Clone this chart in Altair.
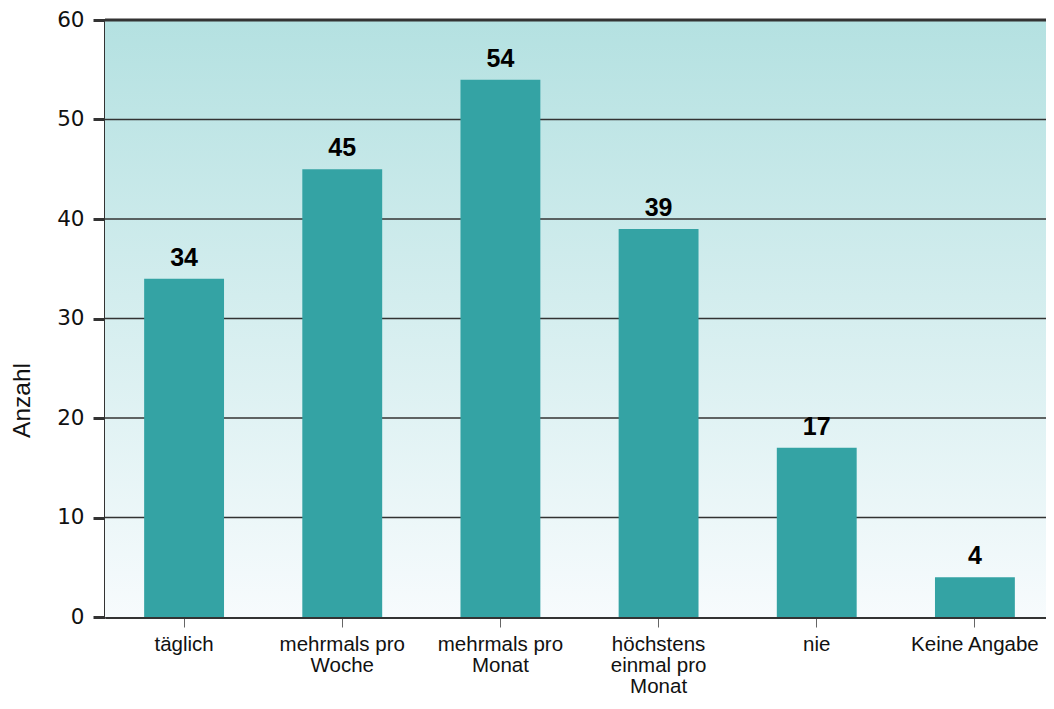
import altair as alt
import pandas as pd

categories = ["täglich", "mehrmals pro Woche", "mehrmals pro Monat",
              "höchstens einmal pro Monat", "nie", "Keine Angabe"]
label_lines = [["täglich"], ["mehrmals pro", "Woche"], ["mehrmals pro", "Monat"],
               ["höchstens", "einmal pro", "Monat"], ["nie"], ["Keine Angabe"]]
values = [34, 45, 54, 39, 17, 4]
y_ticks = [0, 10, 20, 30, 40, 50, 60]

df = pd.DataFrame({"cat": categories, "val": values})
grid_df = pd.DataFrame({"g": y_ticks[1:]})

label_map = {c: l for c, l in zip(categories, label_lines)}
label_expr = "{" + ",".join(
    f"'{c}': [" + ",".join(f"'{s}'" for s in l) + "]" for c, l in label_map.items()
) + "}[datum.value]"

W, H = 941, 597
X_RANGE = 949  # band layout as in the original; plot area clipped at the window edge

yscale = alt.Scale(domain=[0, 60], nice=False)
xscale = alt.Scale(paddingInner=0.495, paddingOuter=0.2475, range=[0, X_RANGE])

x = alt.X("cat:N", sort=categories, title=None, scale=xscale,
          axis=alt.Axis(labelAngle=0, labelExpr=label_expr,
                        labelFont="Liberation Sans", labelFontSize=20.5,
                        labelColor="#111", labelLineHeight=21,
                        labelPadding=7, labelBaseline="top",
                        domainColor="#333", domainWidth=3,
                        tickColor="#666", tickWidth=1, tickSize=10,
                        grid=False))
y = alt.Y("val:Q", title="Anzahl", scale=yscale,
          axis=alt.Axis(values=y_ticks, labelFont="DejaVu Sans", labelFontSize=21.5,
                        labelColor="#111", labelPadding=9,
                        domainColor="#333", domainWidth=3,
                        tickColor="#333", tickWidth=3, tickSize=12,
                        grid=False,
                        titleFont="Liberation Sans", titleFontSize=24.5,
                        titleFontWeight="normal", titleColor="#111",
                        titleAngle=-90, titleAlign="center", titleBaseline="middle",
                        titleX=-83, titleY=380))

bg = alt.Chart(pd.DataFrame({"a": [0]})).mark_rect(
    color=alt.LinearGradient(gradient="linear", x1=0, y1=0, x2=0, y2=1,
                             stops=[alt.GradientStop(color="#B4E1E1", offset=0),
                                    alt.GradientStop(color="#F7FBFD", offset=1)])
).encode(x=alt.value(0), x2=alt.value(W), y=alt.value(0), y2=alt.value(H))

grid = alt.Chart(grid_df).mark_rule(color="#333").encode(
    y=alt.Y("g:Q", scale=yscale),
    strokeWidth=alt.condition("datum.g == 60", alt.value(3), alt.value(1.7)),
)

bars = alt.Chart(df).mark_bar(color="#34A3A4").encode(x=x, y=y)
texts = alt.Chart(df).mark_text(font="Liberation Sans", fontSize=25, fontWeight="bold",
                                color="#000", baseline="alphabetic", dy=-13).encode(
    x=alt.X("cat:N", sort=categories, scale=xscale), y="val:Q", text="val:Q")

chart = alt.layer(bg, grid, bars, texts).properties(
    width=W, height=H,
    autosize=alt.AutoSizeParams(type="none"),
    padding={"left": 97, "top": 12, "right": 0, "bottom": 80},
    background="white",
).configure_view(stroke=None)

chart.save("out.html", embed_options={"renderer": "svg", "actions": False})
